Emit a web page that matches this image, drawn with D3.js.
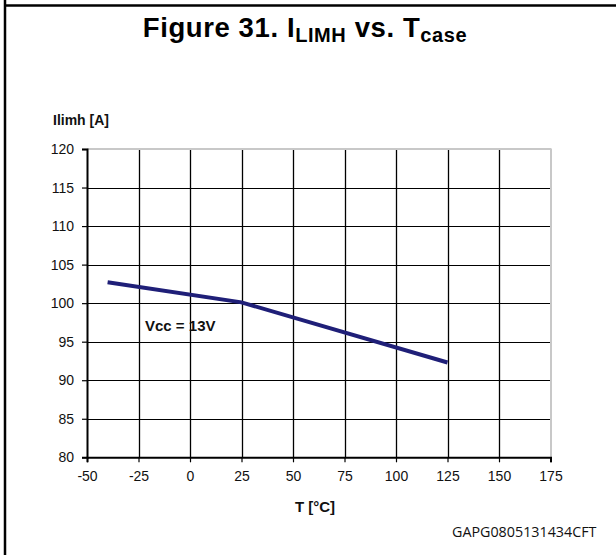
<!DOCTYPE html>
<html><head><meta charset="utf-8">
<script src="https://cdn.jsdelivr.net/npm/d3@7"></script>
<style>body{margin:0;background:#fff;}svg{display:block;font-family:"Liberation Sans",Arial,sans-serif;}</style>
</head><body>
<svg id="c" width="616" height="555"></svg>
<script>
const temps = [-40, 25, 125];
const ilimh = [102.7, 100.1, 92.3];
const xTicks = [-50, -25, 0, 25, 50, 75, 100, 125, 150, 175];
const yTicks = [80, 85, 90, 95, 100, 105, 110, 115, 120];

const svg = d3.select("#c");
const L = 87, R = 550.5, T = 149, B = 457.3;
const x = d3.scaleLinear().domain([-50, 175]).range([L, R]);
const y = d3.scaleLinear().domain([80, 120]).range([B, T]);
const fmt = d => String(d);

// outer frame
svg.append("line").attr("x1", 5).attr("x2", 5).attr("y1", 0).attr("y2", 555).attr("stroke", "#000").attr("stroke-width", 2.5);
svg.append("line").attr("x1", 5).attr("x2", 616).attr("y1", 5.5).attr("y2", 5.5).attr("stroke", "#000").attr("stroke-width", 2.5);

// title
const title = svg.append("text").attr("x", 305).attr("y", 37).attr("text-anchor", "middle")
  .attr("font-weight", "bold").attr("font-size", 27.5).attr("letter-spacing", 0.6).attr("fill", "#000");
title.append("tspan").text("Figure 31. I");
title.append("tspan").attr("font-size", 20).attr("dy", 5).text("LIMH");
title.append("tspan").attr("dy", -5).text(" vs. T");
title.append("tspan").attr("font-size", 20).attr("dy", 5).text("case");

// grid
const g = svg.append("g");
g.selectAll(".vg").data(xTicks.slice(1, -1)).enter().append("line")
  .attr("x1", d => Math.round(x(d)) + 0.5).attr("x2", d => Math.round(x(d)) + 0.5)
  .attr("y1", T).attr("y2", B).attr("stroke", "#000").attr("stroke-width", 1.3);
g.selectAll(".hg").data(yTicks.slice(1, -1)).enter().append("line")
  .attr("x1", L).attr("x2", R)
  .attr("y1", d => Math.round(y(d)) + 0.5).attr("y2", d => Math.round(y(d)) + 0.5)
  .attr("stroke", "#000").attr("stroke-width", 1.2);

// plot border top/right light grey
svg.append("line").attr("x1", L).attr("x2", R + 1).attr("y1", T).attr("y2", T).attr("stroke", "#c8c8c8").attr("stroke-width", 2);
svg.append("line").attr("x1", R + 0.5).attr("x2", R + 0.5).attr("y1", T).attr("y2", B).attr("stroke", "#c8c8c8").attr("stroke-width", 2);

// axes
const yAxis = svg.append("g").attr("transform", `translate(${L},0)`)
  .call(d3.axisLeft(y).tickValues(yTicks).tickSize(5).tickPadding(8).tickFormat(fmt));
const xAxis = svg.append("g").attr("transform", `translate(0,${B})`)
  .call(d3.axisBottom(x).tickValues(xTicks).tickSize(5).tickPadding(9).tickFormat(fmt));
[yAxis, xAxis].forEach(a => {
  a.select(".domain").attr("stroke", "#000").attr("stroke-width", 2);
  a.selectAll(".tick line").attr("stroke", "#000").attr("stroke-width", 1.2);
  a.selectAll(".tick text").attr("font-size", 14).attr("fill", "#111").attr("font-family", "Liberation Sans, Arial, sans-serif");
});

// data line
const data = temps.map((t, i) => ({t, v: ilimh[i]}));
svg.append("path").datum(data)
  .attr("d", d3.line().x(d => x(d.t)).y(d => y(d.v)))
  .attr("fill", "none").attr("stroke", "#1f1f78").attr("stroke-width", 4);

// labels
svg.append("text").attr("x", 53).attr("y", 125).attr("font-weight", "bold").attr("font-size", 14).attr("fill", "#111").text("Ilimh [A]");
svg.append("text").attr("x", 145).attr("y", 331).attr("font-weight", "bold").attr("font-size", 15).attr("fill", "#111").text("Vcc = 13V");
svg.append("text").attr("x", 315).attr("y", 512).attr("text-anchor", "middle").attr("font-weight", "bold").attr("font-size", 15).attr("fill", "#111").text("T [°C]");
svg.append("text").attr("x", 452).attr("y", 537).attr("font-size", 14.3).attr("fill", "#111").attr("font-family", "Open Sans, sans-serif").text("GAPG0805131434CFT");
</script>
</body></html>
